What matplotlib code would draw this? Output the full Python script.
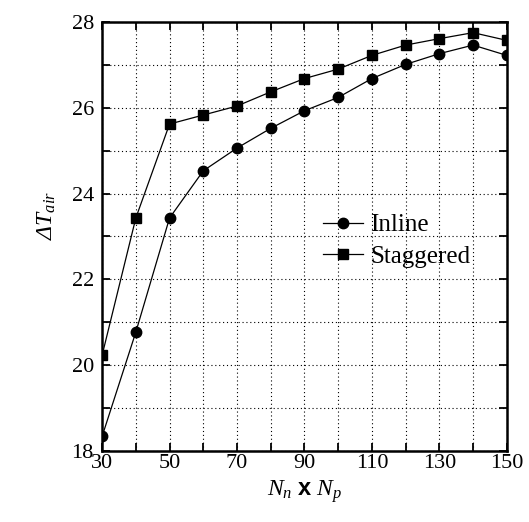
import matplotlib
matplotlib.use("Agg")
import matplotlib.pyplot as plt

plt.rcParams["font.family"] = ["Liberation Serif", "DejaVu Serif"]
plt.rcParams["mathtext.fontset"] = "custom"
plt.rcParams["mathtext.rm"] = "Liberation Serif"
plt.rcParams["mathtext.it"] = "Liberation Serif:italic"
plt.rcParams["mathtext.bf"] = "Liberation Sans:bold"

n_count = [30, 40, 50, 60, 70, 80, 90, 100, 110, 120, 130, 140, 150]
inline = [18.34, 20.77, 23.43, 24.53, 25.06, 25.52, 25.93, 26.24, 26.68, 27.01, 27.26, 27.46, 27.22]
staggered = [20.23, 23.43, 25.62, 25.83, 26.04, 26.37, 26.68, 26.90, 27.22, 27.46, 27.61, 27.75, 27.57]

fig = plt.figure(figsize=(5.29, 5.22), dpi=100)
ax = fig.add_axes([0.193, 0.136, 0.765, 0.822])

ax.plot(n_count, inline, color="black", lw=0.9, marker="o", ms=7.5, label="Inline", zorder=3)
ax.plot(n_count, staggered, color="black", lw=0.9, marker="s", ms=7.5, label="Staggered", zorder=3)

ax.set_xlim(30, 150)
ax.set_ylim(18, 28)
ax.set_xticks(range(30, 151, 20))
ax.set_xticks(range(40, 150, 20), minor=True)
ax.set_yticks(range(18, 29, 2))
ax.set_yticks(range(19, 28, 2), minor=True)
ax.grid(which="both", color="black", linestyle=(0, (1, 2.5)), linewidth=0.8)

ax.tick_params(which="both", direction="in", top=True, right=True, length=5.5, width=1.3,
               labelsize=16)
ax.tick_params(axis="x", pad=2)
ax.tick_params(axis="y", pad=6)
for s in ax.spines.values():
    s.set_linewidth(1.8)

ax.set_xlabel(r"$N_n$ $\mathbf{x}$ $N_p$", fontsize=17, labelpad=4)
ax.set_ylabel(r"ΔT$_{air}$", fontsize=17, fontstyle="italic")
ax.yaxis.set_label_coords(-0.11, 0.55)

ax.legend(loc="center left", bbox_to_anchor=(0.49, 0.49), frameon=False, fontsize=18,
          handlelength=1.6, handletextpad=0.3, labelspacing=0.35)

fig.savefig("out.png", dpi=100)
